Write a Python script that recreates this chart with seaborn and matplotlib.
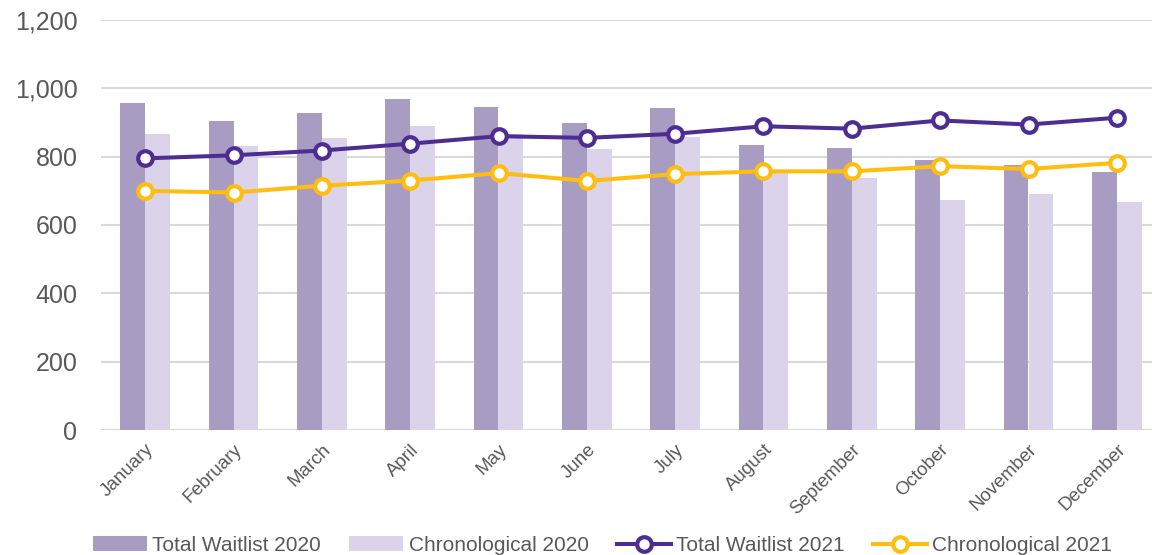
import matplotlib.pyplot as plt
import numpy as np
import pandas as pd
import seaborn as sns

# Datos
meses = ['January', 'February', 'March', 'April', 'May', 'June', 'July',
         'August', 'September', 'October', 'November', 'December']
total_2020 = [957, 905, 929, 969, 946, 900, 941, 835, 826, 791, 775, 755]
crono_2020 = [867, 830, 855, 890, 865, 823, 857, 755, 738, 673, 691, 668]
total_2021 = [795, 804, 818, 838, 860, 855, 867, 889, 882, 906, 894, 914]
crono_2021 = [700, 695, 715, 730, 752, 729, 749, 757, 757, 772, 764, 782]

series_barras = ['Total Waitlist 2020', 'Chronological 2020']
colores_barras = ['#A596C9', '#D9D0EC']
color_total = '#4E2D92'
color_crono = '#FFBD0F'
gris = '#595959'

plt.rcParams['font.family'] = ['Liberation Sans', 'DejaVu Sans']

df = pd.DataFrame({
    'mes': meses * 2,
    'valor': total_2020 + crono_2020,
    'serie': [series_barras[0]] * 12 + [series_barras[1]] * 12,
})

fig = plt.figure(figsize=(11.52, 5.55), dpi=100)
ax = fig.add_axes([101 / 1152, 125 / 555, 1060 / 1152, 410 / 555])

sns.barplot(data=df, x='mes', y='valor', hue='serie', palette=colores_barras,
            width=0.566, linewidth=0, ax=ax, errorbar=None)

x = np.arange(len(meses))
estilo = dict(linewidth=2.9, marker='o', markersize=10.5, markeredgewidth=3.0,
              markerfacecolor='white')
ax.plot(x, total_2021, color=color_total, markeredgecolor=color_total,
        label='Total Waitlist 2021', zorder=4, **estilo)
ax.plot(x, crono_2021, color=color_crono, markeredgecolor=color_crono,
        label='Chronological 2021', zorder=4, **estilo)

ax.set_xlim(-0.5, 11.5)
ax.set_ylim(0, 1200)
ax.set_yticks(range(0, 1201, 200))
ax.set_yticklabels([f'{v:,}' for v in range(0, 1201, 200)])
ax.grid(axis='y', color='#D9D9D9', linewidth=1.5)
ax.set_axisbelow(True)
for s in ax.spines.values():
    s.set_visible(False)
ax.tick_params(axis='y', length=0, pad=17, labelsize=18, labelcolor=gris)
ax.tick_params(axis='x', length=0, pad=8, labelsize=13.5, labelcolor=gris)
plt.setp(ax.get_xticklabels(), rotation=45, ha='right', rotation_mode='anchor')
ax.set_xlabel('')
ax.set_ylabel('')

handles, labels = ax.get_legend_handles_labels()
if ax.get_legend() is not None:
    ax.get_legend().remove()
fig.legend(handles, labels, loc='lower center', bbox_to_anchor=(0.523, 0.0),
           ncol=4, frameon=False, fontsize=15, labelcolor=gris,
           handlelength=2.6, handletextpad=0.25, columnspacing=1.35,
           borderpad=0, borderaxespad=0)

plt.savefig('out.png', dpi=100)
